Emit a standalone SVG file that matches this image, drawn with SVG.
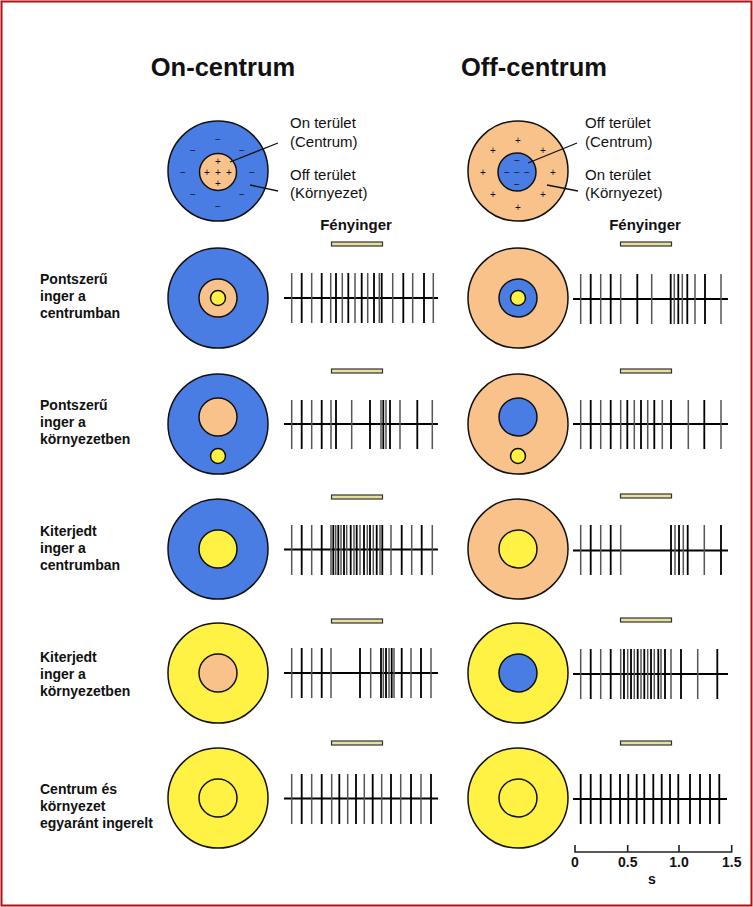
<svg xmlns="http://www.w3.org/2000/svg" width="753" height="907" viewBox="0 0 753 907">
  <style>
    text { font-family: "Liberation Sans", Arial, sans-serif; fill: #111; }
    .title { font-size: 25.5px; font-weight: bold; }
    .lbl { font-size: 15px; }
    .stim { font-size: 15px; font-weight: bold; text-anchor: middle; }
    .row { font-size: 14px; font-weight: bold; }
    .sym { font-size: 10px; text-anchor: middle; }
    .plus { fill: #9a5a22; }
    .minus { fill: #1c3b8c; }
    .blue { fill: #4a7de3; stroke: #111; stroke-width: 1.5; }
    .orange { fill: #f8c28a; stroke: #111; stroke-width: 1.5; }
    .yellow { fill: #fff244; stroke: #111; stroke-width: 1.5; }
    .lead { stroke: #111; stroke-width: 1.3; fill: none; }
    .axis { stroke: #000; stroke-width: 2.2; fill: none; }
    .sp1 { stroke: #000; stroke-width: 1.8; fill: none; }
    .sp2 { stroke: #555; stroke-width: 1.5; fill: none; }
    .bar { fill: #e8df9c; stroke: #333; stroke-width: 1.2; }
    .scale { stroke: #222; stroke-width: 1.6; fill: none; }
    .num { font-size: 14px; font-weight: bold; text-anchor: middle; }
  </style>

  <rect x="1.5" y="1.5" width="750" height="904" fill="#fff" stroke="#b01010" stroke-width="2"/>

  <!-- column headings -->
  <text class="title" x="223" y="76" text-anchor="middle">On-centrum</text>
  <text class="title" x="534" y="76" text-anchor="middle">Off-centrum</text>

  <!-- receptive field legends -->
  <g id="legend-on">
    <circle class="blue" cx="218" cy="171" r="50"/>
    <circle class="orange" cx="218" cy="172" r="18.5"/>
    <g class="sym plus">
      <text x="218" y="165">+</text>
      <text x="207" y="176">+</text>
      <text x="218" y="176">+</text>
      <text x="229" y="176">+</text>
      <text x="218" y="187">+</text>
    </g>
    <g class="sym minus">
      <text x="218" y="143">−</text>
      <text x="193" y="154">−</text>
      <text x="242" y="154">−</text>
      <text x="183" y="176">−</text>
      <text x="252" y="176">−</text>
      <text x="193" y="198">−</text>
      <text x="242" y="198">−</text>
      <text x="218" y="210">−</text>
    </g>
    <path class="lead" d="M230 162 L278 143 M250 185 L278 191"/>
    <text class="lbl" x="290" y="128">On terület</text>
    <text class="lbl" x="290" y="147">(Centrum)</text>
    <text class="lbl" x="290" y="180">Off terület</text>
    <text class="lbl" x="290" y="198">(Környezet)</text>
  </g>

  <g id="legend-off">
    <circle class="orange" cx="518" cy="171" r="50"/>
    <circle class="blue" cx="517" cy="172" r="19"/>
    <g class="sym minus">
      <text x="517" y="164">−</text>
      <text x="507" y="176">−</text>
      <text x="517" y="176">−</text>
      <text x="527" y="176">−</text>
      <text x="517" y="188">−</text>
    </g>
    <g class="sym plus">
      <text x="518" y="144">+</text>
      <text x="493" y="154">+</text>
      <text x="543" y="154">+</text>
      <text x="483" y="176">+</text>
      <text x="553" y="176">+</text>
      <text x="493" y="198">+</text>
      <text x="543" y="198">+</text>
      <text x="518" y="211">+</text>
    </g>
    <path class="lead" d="M528 163 L577 143 M547 185 L578 191"/>
    <text class="lbl" x="585" y="128">Off terület</text>
    <text class="lbl" x="585" y="147">(Centrum)</text>
    <text class="lbl" x="585" y="180">On terület</text>
    <text class="lbl" x="585" y="198">(Környezet)</text>
  </g>

  <text class="stim" x="356" y="230">Fényinger</text>
  <text class="stim" x="645" y="230">Fényinger</text>

  <!-- row labels -->
  <g id="label-1" class="row">
    <text x="40" y="284">Pontszerű</text>
    <text x="40" y="301">inger a</text>
    <text x="40" y="318">centrumban</text>
  </g>
  <g id="label-2" class="row">
    <text x="40" y="410">Pontszerű</text>
    <text x="40" y="427">inger a</text>
    <text x="40" y="444">környezetben</text>
  </g>
  <g id="label-3" class="row">
    <text x="40" y="536">Kiterjedt</text>
    <text x="40" y="553">inger a</text>
    <text x="40" y="570">centrumban</text>
  </g>
  <g id="label-4" class="row">
    <text x="40" y="662">Kiterjedt</text>
    <text x="40" y="679">inger a</text>
    <text x="40" y="696">környezetben</text>
  </g>
  <g id="label-5" class="row">
    <text x="40" y="794">Centrum és</text>
    <text x="40" y="811">környezet</text>
    <text x="40" y="828">egyaránt ingerelt</text>
  </g>

  <!-- receptive fields under stimulation -->
  <g id="on-1">
    <circle class="blue" cx="218" cy="298" r="50"/>
    <circle class="orange" cx="218" cy="298" r="19"/>
    <circle class="yellow" cx="218" cy="298" r="7.5"/>
  </g>
  <g id="off-1">
    <circle class="orange" cx="518" cy="298" r="50"/>
    <circle class="blue" cx="518" cy="298" r="19"/>
    <circle class="yellow" cx="518" cy="298" r="7.5"/>
  </g>
  <g id="on-2">
    <circle class="blue" cx="218" cy="424" r="50"/>
    <circle class="orange" cx="218" cy="417" r="19"/>
    <circle class="yellow" cx="218" cy="456" r="7.5"/>
  </g>
  <g id="off-2">
    <circle class="orange" cx="518" cy="424" r="50"/>
    <circle class="blue" cx="518" cy="417" r="19"/>
    <circle class="yellow" cx="518" cy="456" r="7.5"/>
  </g>
  <g id="on-3">
    <circle class="blue" cx="218" cy="549" r="50"/>
    <circle class="yellow" cx="218" cy="549" r="19"/>
  </g>
  <g id="off-3">
    <circle class="orange" cx="518" cy="549" r="50"/>
    <circle class="yellow" cx="518" cy="549" r="19"/>
  </g>
  <g id="on-4">
    <circle class="yellow" cx="218" cy="673" r="50"/>
    <circle class="orange" cx="218" cy="673" r="19"/>
  </g>
  <g id="off-4">
    <circle class="yellow" cx="518" cy="673" r="50"/>
    <circle class="blue" cx="518" cy="673" r="19"/>
  </g>
  <g id="on-5">
    <circle class="yellow" cx="218" cy="798" r="50"/>
    <circle class="yellow" cx="218" cy="798" r="19"/>
  </g>
  <g id="off-5">
    <circle class="yellow" cx="518" cy="798" r="50"/>
    <circle class="yellow" cx="518" cy="798" r="19"/>
  </g>

  <!-- light stimulus bars -->
  <g id="stimulus">
    <rect class="bar" x="331.5" y="242" width="51" height="4"/>
    <rect class="bar" x="620.5" y="242" width="51" height="4"/>
    <rect class="bar" x="331.5" y="369" width="51" height="4"/>
    <rect class="bar" x="620.5" y="369" width="51" height="4"/>
    <rect class="bar" x="331.5" y="495" width="51" height="4"/>
    <rect class="bar" x="620.5" y="494" width="51" height="4"/>
    <rect class="bar" x="331.5" y="619" width="51" height="4"/>
    <rect class="bar" x="620.5" y="618" width="51" height="4"/>
    <rect class="bar" x="331.5" y="741" width="51" height="4"/>
    <rect class="bar" x="620.5" y="741" width="51" height="4"/>
  </g>

  <!-- spike trains -->
  <g id="trains">
    <g id="train-on-1">
      <path class="axis" d="M284 298H438"/>
      <path class="sp2" d="M291.7 273v50M311.7 273v50M330.7 273v50M342.3 273v50M355 273v50M367.7 273v50M379.3 273v50M392.7 273v50M412.7 273v50M433.3 273v50"/>
      <path class="sp1" d="M301.7 273v50M321.7 273v50M336 273v50M348.3 273v50M361.7 273v50M374 273v50M381.7 273v50M403.3 273v50M424 273v50"/>
    </g>
    <g id="train-off-1">
      <path class="axis" d="M573 299H728"/>
      <path class="sp2" d="M580.7 274v50M600.7 274v50M620.7 274v50M651.7 274v50M674.3 274v50M682.3 274v50M695 274v50M721 274v50"/>
      <path class="sp1" d="M590.7 274v50M610.7 274v50M637.3 274v50M670.7 274v50M678.3 274v50M687.3 274v50M705 274v50"/>
    </g>
    <g id="train-on-2">
      <path class="axis" d="M284 424H438"/>
      <path class="sp2" d="M291.7 400v49M311.7 400v49M331 400v49M351.7 400v49M381 400v49M386 400v49M400 400v49M432.3 400v49"/>
      <path class="sp1" d="M301.7 400v49M321.7 400v49M336 400v49M370 400v49M383.3 400v49M390 400v49M417.3 400v49"/>
    </g>
    <g id="train-off-2">
      <path class="axis" d="M573 424H728"/>
      <path class="sp2" d="M580.7 400v49M600.7 400v49M620.7 400v49M634.3 400v49M647.7 400v49M662.3 400v49M688.3 400v49M721 400v49"/>
      <path class="sp1" d="M590.7 400v49M610.7 400v49M627.3 400v49M641 400v49M654.3 400v49M671 400v49M704.3 400v49"/>
    </g>
    <g id="train-on-3">
      <path class="axis" d="M284 549.5H438"/>
      <path class="sp2" d="M291.7 525v50M311.7 525v50M331 525v50M335.7 525v50M341 525v50M346.7 525v50M354 525v50M360 525v50M367.3 525v50M373.3 525v50M380 525v50M391 525v50M411.7 525v50M432.3 525v50"/>
      <path class="sp1" d="M301.7 525v50M321.7 525v50M333.3 525v50M338.3 525v50M344 525v50M350.7 525v50M356.7 525v50M364 525v50M370 525v50M376.7 525v50M382.3 525v50M401.7 525v50M421.7 525v50"/>
    </g>
    <g id="train-off-3">
      <path class="axis" d="M573 550.5H728"/>
      <path class="sp2" d="M580.7 525v50M600.7 525v50M620.7 525v50M675 525v50M683.3 525v50M704.3 525v50"/>
      <path class="sp1" d="M590.7 525v50M610.7 525v50M671 525v50M679 525v50M687.7 525v50M721 525v50"/>
    </g>
    <g id="train-on-4">
      <path class="axis" d="M284 673H438"/>
      <path class="sp2" d="M291.7 648v50M311.7 648v50M331 648v50M370.7 648v50M383.3 648v50M389 648v50M394 648v50M411 648v50M431 648v50"/>
      <path class="sp1" d="M301.7 648v50M321.7 648v50M360 648v50M381 648v50M386 648v50M391.7 648v50M401.7 648v50M421 648v50"/>
    </g>
    <g id="train-off-4">
      <path class="axis" d="M573 674H728"/>
      <path class="sp2" d="M580.7 649v50M600.7 649v50M620.7 649v50M627.7 649v50M634.3 649v50M641 649v50M647.7 649v50M654.3 649v50M661 649v50M671 649v50M697.7 649v50"/>
      <path class="sp1" d="M590.7 649v50M610.7 649v50M624 649v50M631 649v50M637.7 649v50M644.3 649v50M651 649v50M658.3 649v50M665 649v50M681 649v50M717.3 649v50"/>
    </g>
    <g id="train-on-5">
      <path class="axis" d="M284 798.5H438"/>
      <path class="sp2" d="M291.7 774v50M311.7 774v50M331.7 774v50M347.7 774v50M364.3 774v50M381.7 774v50M400.7 774v50M421 774v50"/>
      <path class="sp1" d="M301.7 774v50M321.7 774v50M339.3 774v50M356 774v50M372.7 774v50M391 774v50M411 774v50M431 774v50"/>
    </g>
    <g id="train-off-5">
      <path class="axis" d="M573 799H727"/>
      <path class="sp1" d="M580.7 774v50M590.7 774v50M600.7 774v50M610.7 774v50M620 774v50M628.3 774v50M636.7 774v50M644.3 774v50M653.3 774v50M661.7 774v50M670 774v50M678.3 774v50M690 774v50M700 774v50M710 774v50M719.3 774v50"/>
    </g>
  </g>

  <!-- time scale -->
  <g id="time-scale">
    <path class="scale" d="M575 845V852H731.7V845M627.7 852V845M679 852V845"/>
    <text class="num" x="575" y="867">0</text>
    <text class="num" x="627.7" y="867">0.5</text>
    <text class="num" x="679" y="867">1.0</text>
    <text class="num" x="731.7" y="867">1.5</text>
    <text class="num" x="652" y="884">s</text>
  </g>
</svg>
